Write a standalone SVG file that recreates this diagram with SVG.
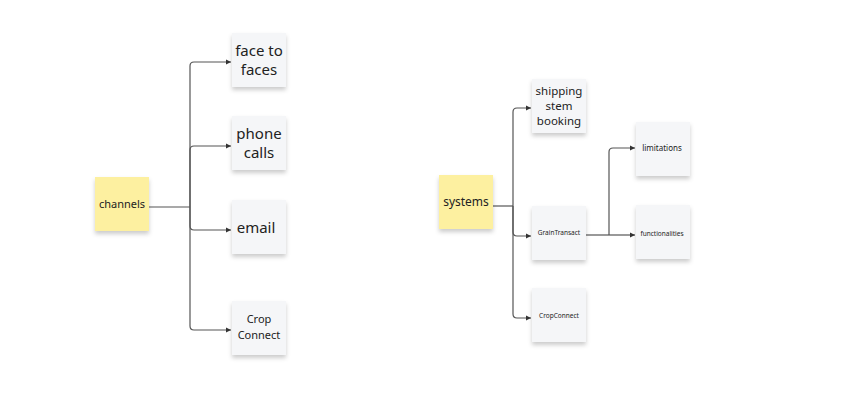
<svg xmlns="http://www.w3.org/2000/svg" width="855" height="415" viewBox="0 0 855 415">
<defs>
<marker id="ah" markerWidth="6" markerHeight="6" refX="5" refY="3" orient="auto" markerUnits="userSpaceOnUse"><path d="M0,0.5 L5,3 L0,5.5z" fill="#333"/></marker>
<filter id="sh" x="-20%" y="-20%" width="140%" height="150%"><feDropShadow dx="0" dy="3" stdDeviation="2" flood-color="#000" flood-opacity="0.2"/></filter>
<style>
.s{fill:#f5f6f8;filter:url(#sh)}
.y{fill:#fdf0a0;filter:url(#sh)}
.c{fill:none;stroke:#555;stroke-width:1.2;marker-end:url(#ah)}
.l{fill:none;stroke:#555;stroke-width:1.2}
text{font-family:"Noto Sans","Open Sans",sans-serif;fill:#222;text-anchor:middle}
</style>
</defs>
<rect width="855" height="415" fill="#fff"/>
<g id="connectors">
<path class="l" d="M149,207 H190"/>
<path class="c" d="M190,207 V66 Q190,62 194,62 H231"/>
<path class="c" d="M190,207 V150 Q190,146 194,146 H231"/>
<path class="c" d="M190,207 V226 Q190,230 194,230 H231"/>
<path class="c" d="M190,207 V326 Q190,330 194,330 H231"/>
<path class="l" d="M493,206 H513"/>
<path class="c" d="M513,206 V112 Q513,108 517,108 H531"/>
<path class="c" d="M513,206 V232 Q513,236 517,236 H531"/>
<path class="c" d="M513,206 V314 Q513,318 517,318 H531"/>
<path class="l" d="M586,235 H609"/>
<path class="c" d="M609,235 V152 Q609,148 613,148 H635"/>
<path class="c" d="M609,235 H635"/>
</g>
<g id="channels"><rect class="y" x="95" y="177" width="54" height="54"/><text x="122" y="208" font-size="11">channels</text></g>
<g id="face"><rect class="s" x="232" y="33" width="54" height="54"/><text x="259" y="56" font-size="15">face to</text><text x="259" y="75" font-size="15">faces</text></g>
<g id="phone"><rect class="s" x="232" y="116" width="54" height="54"/><text x="259" y="139" font-size="15">phone</text><text x="259" y="158" font-size="15">calls</text></g>
<g id="email"><rect class="s" x="232" y="200" width="54" height="54"/><text x="256" y="233" font-size="15">email</text></g>
<g id="cropconnect1"><rect class="s" x="232" y="301" width="54" height="54"/><text x="259" y="323" font-size="11">Crop</text><text x="259" y="339" font-size="11">Connect</text></g>
<g id="systems"><rect class="y" x="439" y="175" width="54" height="54"/><text x="466" y="206" font-size="12">systems</text></g>
<g id="shipping"><rect class="s" x="532" y="79" width="54" height="54"/><text x="559" y="95" font-size="11.5">shipping</text><text x="559" y="110" font-size="11.5">stem</text><text x="559" y="125" font-size="11.5">booking</text></g>
<g id="graintransact"><rect class="s" x="532" y="206" width="54" height="54"/><text x="559" y="235" font-size="6.5">GrainTransact</text></g>
<g id="cropconnect2"><rect class="s" x="532" y="288" width="54" height="54"/><text x="559" y="318" font-size="6.5">CropConnect</text></g>
<g id="limitations"><rect class="s" x="636" y="122" width="54" height="54"/><text x="662" y="151" font-size="8">limitations</text></g>
<g id="functionalities"><rect class="s" x="636" y="205" width="54" height="54"/><text x="662" y="236" font-size="6.5">functionalities</text></g>
</svg>
